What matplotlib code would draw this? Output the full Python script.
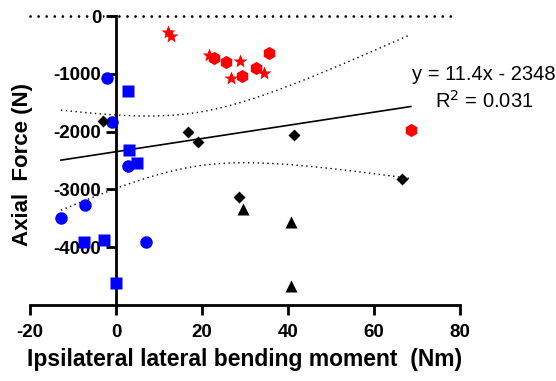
import numpy as np
import matplotlib
matplotlib.use("Agg")
import matplotlib.pyplot as plt

plt.rcParams['font.family'] = ['Liberation Sans', 'DejaVu Sans']
plt.rcParams['axes.unicode_minus'] = False

# blue circles
circ_x = [-2.1, -1.0, 2.8, -12.8, -7.2, 7.0]
circ_y = [-1070, -1840, -2600, -3500, -3270, -3910]
# blue squares
sq_x = [2.8, 3.0, 4.9, -7.4, -2.8, 0.0]
sq_y = [-1300, -2320, -2550, -3910, -3880, -4620]
# black diamonds
dia_x = [-3.0, 16.7, 19.1, 28.6, 41.4, 66.5]
dia_y = [-1820, -2000, -2180, -3130, -2060, -2820]
# black triangles
tri_x = [29.5, 40.7, 40.7]
tri_y = [-3340, -3570, -4680]
# red stars
star_x = [12.0, 12.7, 21.7, 28.8, 26.7, 34.5]
star_y = [-270, -350, -680, -780, -1070, -990]
# red hexagons
hex_x = [22.8, 25.5, 29.3, 32.5, 35.5, 68.6]
hex_y = [-720, -790, -1030, -900, -640, -1970]

slope, intercept = 11.4, -2348
eq_text = "y = 11.4x - 2348"
r2_text = "R$^2$ = 0.031"

fig = plt.figure(figsize=(5.56, 3.81), dpi=100)
ax = fig.add_axes([0.054, 0.1995, 0.773, 0.7585])

ax.plot(circ_x, circ_y, 'o', color='#0000ff', ms=9, mec='none', clip_on=False, zorder=3)
ax.plot(sq_x, sq_y, 's', color='#0000ff', ms=9, mec='none', clip_on=False, zorder=3)
ax.plot(dia_x, dia_y, 'D', color='black', ms=6.5, mec='none', clip_on=False, zorder=3)
ax.plot(tri_x, tri_y, '^', color='black', ms=8, mec='none', clip_on=False, zorder=3)
ax.plot(star_x, star_y, '*', color='#ff0000', ms=10, mec='none', clip_on=False, zorder=3)
ax.plot(hex_x, hex_y, 'h', color='#ff0000', ms=9.5, mec='none', clip_on=False, zorder=3)

# regression line and 95% confidence band
xs = np.array(circ_x + sq_x + dia_x + tri_x + star_x + hex_x)
ys = np.array(circ_y + sq_y + dia_y + tri_y + star_y + hex_y)
n = len(xs)
res = ys - (slope * xs + intercept)
s = np.sqrt(np.sum(res ** 2) / (n - 2))
xx = np.linspace(xs.min(), xs.max(), 200)
yy = slope * xx + intercept
half = 2.04 * s * np.sqrt(1 / n + (xx - xs.mean()) ** 2 / np.sum((xs - xs.mean()) ** 2))
ax.plot(xx, yy, color='black', lw=1.2)
ax.plot(xx, yy + half, color='black', lw=1, ls=(0, (1, 2.5)))
ax.plot(xx, yy - half, color='black', lw=1, ls=(0, (1, 2.5)))

ax.axhline(0, xmin=0, xmax=0.98, color='black', lw=2, ls=(0, (0.01, 2.9)),
           dash_capstyle='round', clip_on=False, zorder=1)

ax.set_xlim(-20, 80)
ax.set_ylim(-5000, 0)
ax.spines['left'].set_position(('data', 0))
ax.spines['top'].set_visible(False)
ax.spines['right'].set_visible(False)
for sp in ['left', 'bottom']:
    ax.spines[sp].set_linewidth(2)
ax.set_xticks([-20, 0, 20, 40, 60, 80])
ax.set_yticks([-4000, -3000, -2000, -1000, 0])
ax.tick_params(width=2, length=7.5, labelsize=13.5)
ax.tick_params(axis='x', pad=6)
ax.tick_params(axis='y', pad=3)
for lab in ax.get_xticklabels() + ax.get_yticklabels():
    lab.set_fontweight('bold')
for lab in ax.get_yticklabels():
    lab.set_bbox(dict(facecolor='white', edgecolor='none', pad=1))

ax.set_xlabel("Ipsilateral lateral bending moment  (Nm)", fontsize=16.5,
              fontweight='bold', labelpad=5)
fig.text(0.04, 0.567, "Axial  Force (N)", rotation=90, fontsize=16,
         fontweight='bold', ha='center', va='center')

fig.text(484 / 556, 1 - 75 / 381, eq_text, fontsize=14.5, ha='center', va='center')
fig.text(484 / 556, 1 - 101 / 381, r2_text, fontsize=14.5, ha='center', va='center')

fig.savefig("out.png", dpi=100)
